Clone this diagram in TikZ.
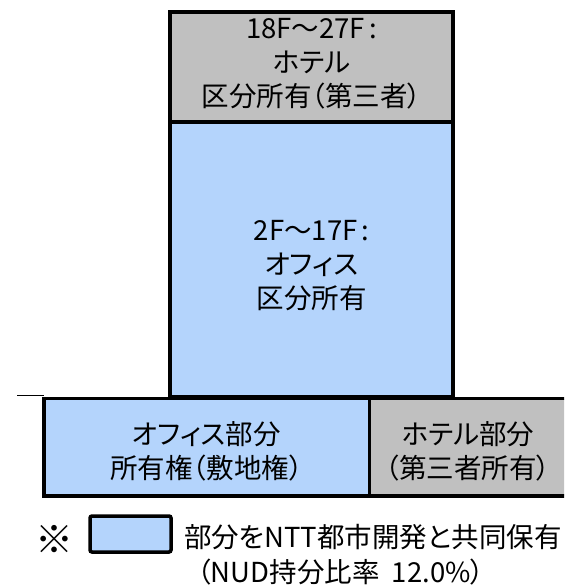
\documentclass[tikz,border=0pt]{standalone}
\usepackage{fontspec}
\setmainfont{Noto Sans CJK JP}[RawFeature=+palt]
\definecolor{nudblue}{RGB}{180,212,252}
\definecolor{nudgray}{RGB}{192,192,192}
\begin{document}
\begin{tikzpicture}[x=1pt,y=-1pt,
  box/.style={draw=black, line width=3.5pt, inner sep=0pt, outer sep=0pt, anchor=north west},
  lbl/.style={align=center, font=\fontsize{27.5}{34}\selectfont, inner sep=0pt}]
\useasboundingbox (0,0) rectangle (564,585);
\clip (0,0) rectangle (564,585);
% tower
\node[box, fill=nudblue, minimum width=283pt, minimum height=275pt] (office) at (170,122) {};
\node[box, fill=nudgray, minimum width=283pt, minimum height=110pt] (hotel) at (170,12) {};
% ground boxes
\node[box, fill=nudblue, minimum width=325.5pt, minimum height=97.5pt] (offbase) at (44,398.5) {};
\node[box, fill=nudgray, minimum width=200pt, minimum height=97.5pt] (hotbase) at (369.5,398.5) {};
% ground line
\coordinate (g0) at (17,395.8);
\draw[line width=1.2pt] (g0) -- (offbase.north west |- g0);
% texts
\node[lbl] (thotel) at (311.5,64) {18F～27F\hspace{0.15em}:\\ホテル\\区分所有（第三者）};
\node[lbl] (toffice) at (311.5,266) {2F～17F\hspace{0.15em}:\\オフィス\\区分所有};
\node[lbl] (toffbase) at (206.5,451.5) {オフィス部分\\所有権（敷地権）};
\node[lbl] (thotbase) at (468,451.5) {ホテル部分\\（第三者所有）};
% legend
\node[lbl, font=\fontsize{38}{38}\selectfont] (mark) at (54,539) {※};
\node[draw=black, line width=3.5pt, fill=nudblue, rounded corners=2pt, inner sep=0pt, outer sep=0pt,
      minimum width=81pt, minimum height=36pt, anchor=north west] (legbox) at (90,516) {};
\node[lbl, anchor=west] (leg1) at (184,537) {部分をNTT都市開発と共同保有};
\node[lbl, anchor=west] (leg2) at (197,572) {（NUD持分比率\ \ 12.0\%）};
\end{tikzpicture}
\end{document}
